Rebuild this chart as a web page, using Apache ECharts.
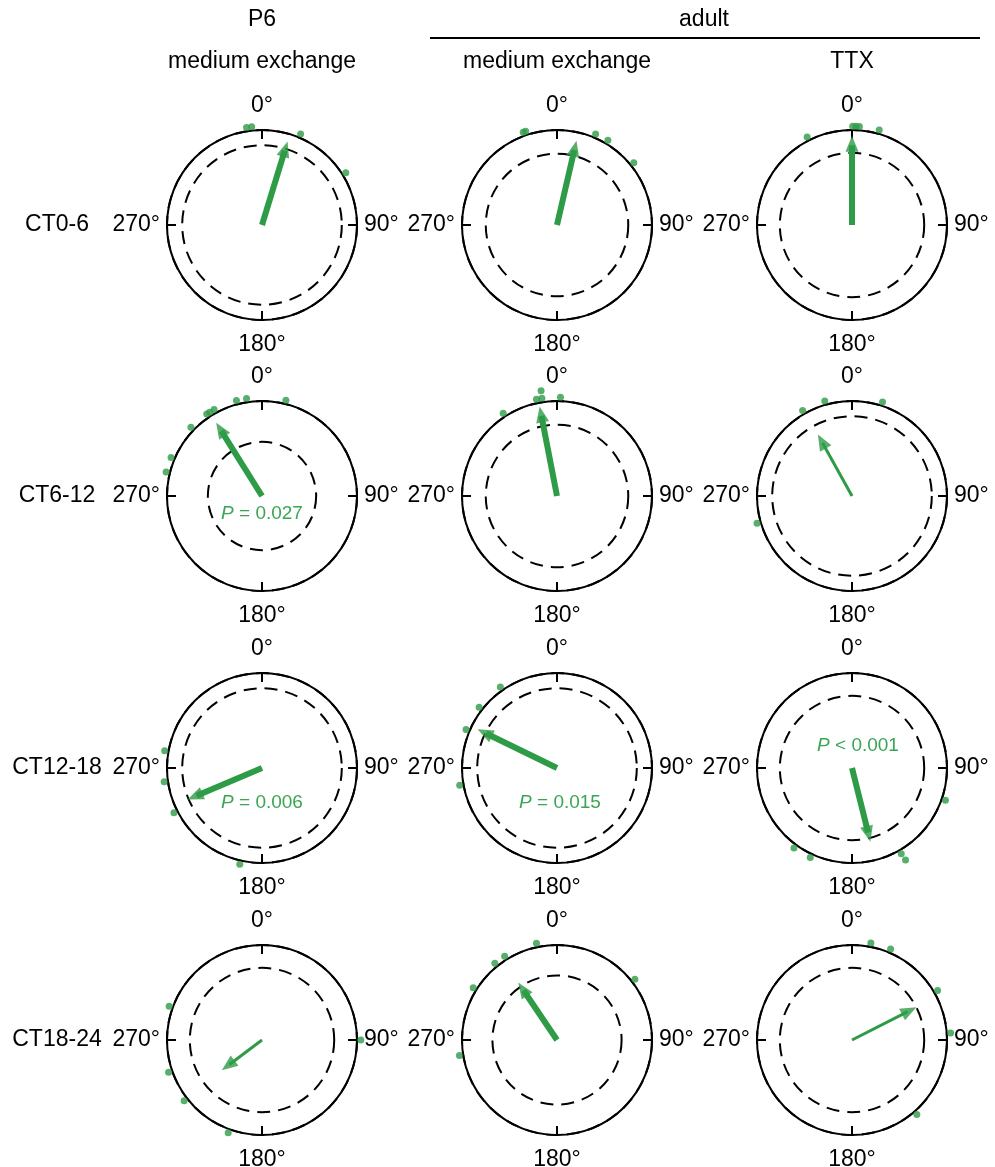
<!DOCTYPE html>
<html><head><meta charset="utf-8">
<script src="https://cdn.jsdelivr.net/npm/echarts@6/dist/echarts.min.js"></script>
<style>html,body{margin:0;padding:0;background:#fff}#chart{width:995px;height:1167px}</style>
</head><body><div id="chart"></div>
<script>
// ---------- data ----------
const ageGroups = ['P6', 'adult'];
const conditions = ['medium exchange', 'medium exchange', 'TTX'];
const timeBins = ['CT0-6', 'CT6-12', 'CT12-18', 'CT18-24'];
const angleTicks = [0, 90, 180, 270];

// individual phases (degrees, clockwise from top), one list per time bin
const phasesP6 = [
  [351, 354, 23, 58],
  [345, 351, 14, 331, 328, 326, 314, 293, 284],
  [280, 262, 243, 193],
  [290, 251, 232, 200, 90]
];
const phasesAdultME = [
  [340, 341.5, 23, 31, 51],
  [351.2, 348, 351.4, 2, 327],
  [325, 308, 293, 260],
  [348, 328, 321, 302, 261, 52]
];
const phasesAdultTTX = [
  [0.4, 2.3, 4.3, 333, 16],
  [344, 330, 18, 254],
  [109, 216, 205, 150.1, 149.8],
  [11, 23, 60, 86, 139]
];
// mean vector angle (deg) and length (fraction of unit circle)
const meanAngleP6 = [17, 328, 247, 233];
const meanLengthP6 = [0.92, 0.91, 0.85, 0.53];
const meanAngleAdultME = [13, 349, 296, 326];
const meanLengthAdultME = [0.91, 0.96, 0.93, 0.73];
const meanAngleAdultTTX = [0, 331, 166, 63];
const meanLengthAdultTTX = [0.94, 0.74, 0.80, 0.76];
// Rayleigh critical radius (dashed circle)
const criticalP6 = [0.84, 0.57, 0.84, 0.76];
const criticalAdultME = [0.75, 0.75, 0.84, 0.68];
const criticalAdultTTX = [0.76, 0.84, 0.76, 0.76];
// p-values shown
const pTextP6 = ['', 'P = 0.027', 'P = 0.006', ''];
const pTextAdultME = ['', '', 'P = 0.015', ''];
const pTextAdultTTX = ['', '', 'P < 0.001', ''];

// ---------- styles / layout ----------
const GREEN = '#2e9b47';
const PGREEN = '#3aa653';
const FONT = '"Liberation Sans", Arial, Helvetica, sans-serif';
const R = 95;
const colX = [262, 557, 852];
const rowY = [225, 496, 768, 1040];
const shaftWidth = [[6, 6, 6], [6, 6, 3], [6, 6, 6], [3, 6, 3]];
const pOffset = [[null, null, null], [[0, 18], null, null], [[0, 35], [3, 35], [6, -22]], [null, null, null]];
const HEAD_W = 13, HEAD_L = 16;
const DOT_R = 1.04, STACK = 0.08;

const phaseCols = [phasesP6, phasesAdultME, phasesAdultTTX];
const meanACols = [meanAngleP6, meanAngleAdultME, meanAngleAdultTTX];
const meanLCols = [meanLengthP6, meanLengthAdultME, meanLengthAdultTTX];
const critCols = [criticalP6, criticalAdultME, criticalAdultTTX];
const pCols = [pTextP6, pTextAdultME, pTextAdultTTX];

function stackDots(angles) {
  const placed = [];
  return angles.map(a => {
    let level = 0;
    placed.forEach(p => {
      const d = Math.abs(((a - p.a + 540) % 360) - 180);
      if (d < 1 && p.level >= level) level = p.level + 1;
    });
    placed.push({ a, level });
    return [DOT_R + level * STACK, a];
  });
}

const LBL = 23;
const polar = [], angleAxis = [], radiusAxis = [], series = [], graphic = [];
let idx = 0;
for (let r = 0; r < timeBins.length; r++) {
  for (let c = 0; c < 3; c++) {
    const i = idx++;
    polar.push({ center: [colX[c], rowY[r]], radius: R });
    angleAxis.push({
      polarIndex: i, type: 'value', min: 0, max: 360, interval: 90,
      startAngle: 90, clockwise: true,
      axisLine: { show: true, lineStyle: { color: '#000', width: 2 } },
      axisTick: { show: true, inside: true, length: 9, lineStyle: { color: '#000', width: 2 } },
      axisLabel: {
        show: true, margin: 7, fontSize: LBL, color: '#000', fontFamily: FONT,
        formatter: v => {
          if (angleTicks.indexOf(v) < 0) return '';
          if (v === 0) return '{t|' + v + '°}';
          if (v === 180) return '{b|' + v + '°}';
          return '{m|' + v + '°}';
        },
        rich: {
          t: { fontSize: LBL, fontFamily: FONT, color: '#000', padding: [0, 0, 6, 0] },
          b: { fontSize: LBL, fontFamily: FONT, color: '#000', padding: [6, 0, 0, 0] },
          m: { fontSize: LBL, fontFamily: FONT, color: '#000' }
        }
      },
      splitLine: { show: false }, splitArea: { show: false }
    });
    radiusAxis.push({
      polarIndex: i, type: 'value', min: 0, max: 1, interval: critCols[c][r],
      axisLine: { show: false }, axisTick: { show: false }, axisLabel: { show: false },
      splitLine: { show: true, lineStyle: { color: '#000', width: 2, type: [13, 8] } },
      splitArea: { show: false }
    });
    const a = meanACols[c][r], L = meanLCols[c][r];
    series.push({
      type: 'line', coordinateSystem: 'polar', polarIndex: i, silent: true,
      symbol: 'none', z: 3,
      lineStyle: { color: GREEN, width: shaftWidth[r][c], cap: 'butt' },
      data: [[0, a], [L - (HEAD_L * 0.6) / R, a]]
    });
    series.push({
      type: 'scatter', coordinateSystem: 'polar', polarIndex: i, silent: true, clip: false, z: 4,
      symbol: 'path://M0,-' + HEAD_L + 'M0,0L' + HEAD_W / 2 + ',' + HEAD_L + 'L-' + HEAD_W / 2 + ',' + HEAD_L + 'Z',
      symbolSize: [HEAD_W, HEAD_L * 2],
      itemStyle: { color: GREEN },
      data: [{ value: [L, a], symbolRotate: -a }]
    });
    series.push({
      type: 'scatter', coordinateSystem: 'polar', polarIndex: i, silent: true, clip: false, z: 5,
      symbol: 'circle', symbolSize: 7,
      itemStyle: { color: GREEN },
      data: stackDots(phaseCols[c][r])
    });
    const pt = pCols[c][r];
    if (pt) {
      const off = pOffset[r][c];
      graphic.push({
        type: 'text', x: colX[c] + off[0], y: rowY[r] + off[1],
        style: {
          text: '{i|P}' + pt.slice(1), fontSize: 19, fontFamily: FONT, fill: PGREEN,
          align: 'center', verticalAlign: 'middle', textAlign: 'center', textVerticalAlign: 'middle',
          rich: { i: { fontStyle: 'italic', fontSize: 19, fontFamily: FONT, fill: PGREEN } }
        }
      });
    }
  }
}

function txt(text, x, y, size) {
  return {
    type: 'text', x, y,
    style: { text, fontSize: size, fontFamily: FONT, fill: '#000',
      align: 'center', verticalAlign: 'middle', textAlign: 'center', textVerticalAlign: 'middle' }
  };
}
graphic.push(txt(ageGroups[0], colX[0], 20, 23));
graphic.push(txt(ageGroups[1], 704, 20, 23));
graphic.push({ type: 'line', shape: { x1: 430, y1: 38, x2: 980, y2: 38 }, style: { stroke: '#000', lineWidth: 2 } });
conditions.forEach((t, c) => graphic.push(txt(t, colX[c], 62, 23)));
timeBins.forEach((t, r) => graphic.push(txt(t, 57, rowY[r], 23)));

const chart = echarts.init(document.getElementById('chart'), null, { renderer: 'canvas' });
chart.setOption({
  animation: false,
  backgroundColor: '#fff',
  polar, angleAxis, radiusAxis, series, graphic
});
</script></body></html>
